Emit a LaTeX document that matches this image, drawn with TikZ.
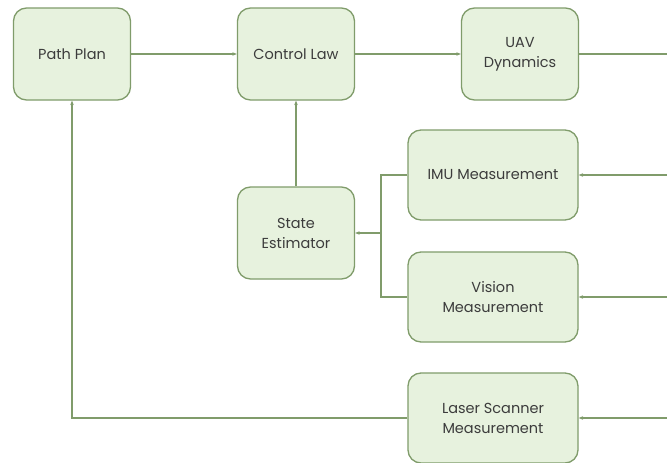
\documentclass[tikz,border=0pt]{standalone}
\usepackage{fontspec}
\setmainfont{Poppins}
\usetikzlibrary{arrows.meta}
\definecolor{boxfill}{HTML}{E7F2DE}
\definecolor{boxline}{HTML}{809C6B}
\definecolor{txt}{HTML}{3C3C3C}
\begin{document}
\begin{tikzpicture}[x=1pt,y=-1pt,
  block/.style={draw=boxline, fill=boxfill, line width=1.3pt, rounded corners=13pt,
    minimum width=117pt, minimum height=92pt, align=center, text=txt,
    font=\fontsize{14.5}{20}\selectfont, inner sep=2pt},
  wide/.style={block, minimum width=170pt, minimum height=90pt},
  link/.style={draw=boxline, line width=1.2pt},
  arr/.style={link, -{Stealth[length=4.5pt,width=3.5pt]}}]
\useasboundingbox (0,0) rectangle (667,463);
\fill[white] (0,0) rectangle (667,463);

\node[block] (plan) at (72,54) {Path Plan};
\node[block] (ctrl) at (296,54) {Control Law};
\node[block] (uav) at (520,54) {UAV\\Dynamics};
\node[wide] (imu) at (493,175) {IMU Measurement};
\node[block] (est) at (296,233) {State\\Estimator};
\node[wide] (vis) at (493,297) {Vision\\Measurement};
\node[wide] (laser) at (493,418) {Laser Scanner\\Measurement};

% connector ends at the right border
\coordinate (out) at (667,54);
\coordinate (inimu) at (667,175);
\coordinate (invis) at (667,297);
\coordinate (inlaser) at (667,418);
\coordinate (merge) at (381,233);

\draw[arr] (plan) -- (ctrl);
\draw[arr] (ctrl) -- (uav);
\draw[link] (uav) -- (out);
\draw[arr] (est) -- (ctrl);
\draw[arr] (inimu) -- (imu);
\draw[arr] (invis) -- (vis);
\draw[arr] (inlaser) -- (laser);
\draw[link] (imu.west) -| (merge) |- (vis.west);
\draw[arr] (merge) -- (est.east);
\draw[arr] (laser.west) -| (plan.south);
\end{tikzpicture}
\end{document}
